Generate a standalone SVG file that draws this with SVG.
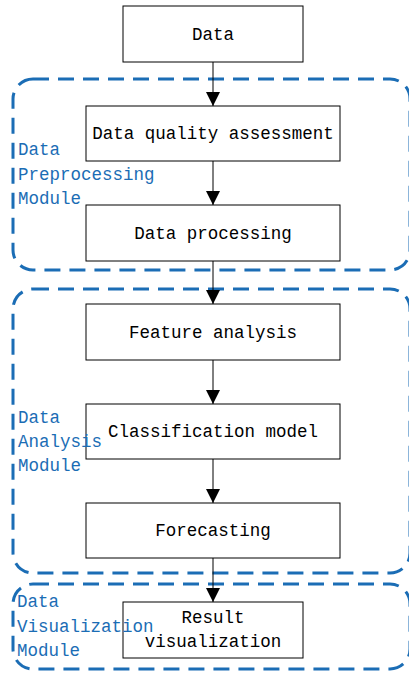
<svg xmlns="http://www.w3.org/2000/svg" width="409" height="673" viewBox="0 0 409 673">
<defs>
<marker id="ah" markerWidth="14" markerHeight="14" refX="14" refY="7" orient="auto" markerUnits="userSpaceOnUse">
<path d="M0,0 L14,7 L0,14 Z" fill="#000"/>
</marker>
<style>
.box{fill:#fff;stroke:#000;stroke-width:1}
.mod{fill:none;stroke:#1b6db5;stroke-width:3;stroke-dasharray:16,9}
.t{font-family:"Liberation Mono","DejaVu Sans Mono",monospace;font-size:17.5px;fill:#000;text-anchor:middle}
.m{font-family:"Liberation Mono","DejaVu Sans Mono",monospace;font-size:17.5px;fill:#1b6db5}
.c{stroke:#000;stroke-width:1;fill:none;marker-end:url(#ah)}
</style>
</defs>
<rect width="409" height="673" fill="#fff"/>
<g id="modules">
<rect class="mod" x="13" y="79" width="397" height="191" rx="20"/>
<rect class="mod" x="13" y="289" width="397" height="284" rx="20"/>
<rect class="mod" x="13" y="584" width="397" height="85" rx="20"/>
</g>
<g id="connectors">
<line class="c" x1="213" y1="62" x2="213" y2="106"/>
<line class="c" x1="213" y1="161" x2="213" y2="205"/>
<line class="c" x1="213" y1="261" x2="213" y2="304"/>
<line class="c" x1="213" y1="360" x2="213" y2="404"/>
<line class="c" x1="213" y1="459" x2="213" y2="503"/>
<line class="c" x1="213" y1="558" x2="213" y2="602"/>
</g>
<g id="n-data"><rect class="box" x="123" y="6" width="180" height="56"/><text class="t" x="213" y="40">Data</text></g>
<g id="n-dqa"><rect class="box" x="86" y="106" width="254" height="55"/><text class="t" x="213" y="139">Data quality assessment</text></g>
<g id="n-dp"><rect class="box" x="86" y="205" width="254" height="56"/><text class="t" x="213" y="239">Data processing</text></g>
<g id="n-fa"><rect class="box" x="86" y="304" width="254" height="56"/><text class="t" x="213" y="338">Feature analysis</text></g>
<g id="n-cm"><rect class="box" x="86" y="404" width="254" height="55"/><text class="t" x="213" y="437">Classification model</text></g>
<g id="n-fc"><rect class="box" x="86" y="503" width="254" height="55"/><text class="t" x="213" y="536">Forecasting</text></g>
<g id="n-rv"><rect class="box" x="123" y="602" width="180" height="56"/><text class="t" x="213" y="623">Result</text><text class="t" x="213" y="647">visualization</text></g>
<g id="labels">
<text class="m" x="18" y="155">Data</text>
<text class="m" x="18" y="180">Preprocessing</text>
<text class="m" x="18" y="204">Module</text>
<text class="m" x="18" y="423">Data</text>
<text class="m" x="18" y="447">Analysis</text>
<text class="m" x="18" y="471">Module</text>
<text class="m" x="17" y="607">Data</text>
<text class="m" x="17" y="632">Visualization</text>
<text class="m" x="17" y="656">Module</text>
</g>
</svg>
